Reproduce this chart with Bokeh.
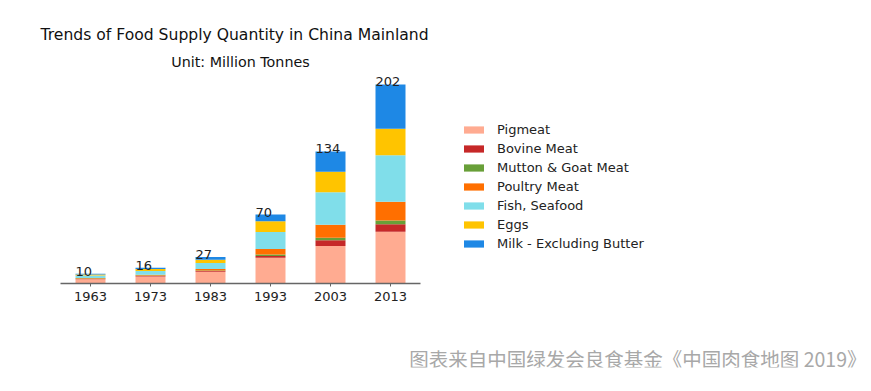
from bokeh.plotting import figure
from bokeh.models import (ColumnDataSource, Range1d, Label, Legend, LegendItem,
                          FixedTicker, BasicTickFormatter)
from bokeh.core.properties import value
from bokeh.embed import file_html
from bokeh.resources import INLINE

years = [1963, 1973, 1983, 1993, 2003, 2013]
categories = ["Pigmeat", "Bovine Meat", "Mutton & Goat Meat", "Poultry Meat",
              "Fish, Seafood", "Eggs", "Milk - Excluding Butter"]
pigmeat = [4.3, 7.2, 12.0, 26.0, 38.0, 52.5]
bovine = [0.3, 0.4, 0.6, 2.0, 6.0, 7.5]
mutton = [0.4, 0.6, 0.7, 1.4, 2.5, 4.0]
poultry = [0.5, 0.8, 1.5, 5.7, 13.0, 19.0]
fish = [2.5, 3.8, 6.0, 17.2, 33.0, 47.0]
eggs = [1.1, 1.8, 3.2, 10.8, 21.0, 27.0]
milk = [0.9, 1.4, 3.0, 6.9, 20.5, 45.0]
total_labels = ["10", "16", "27", "70", "134", "202"]
colors = ["#FFAB91", "#C62828", "#689F38", "#FF6F00", "#80DEEA", "#FFC400", "#1E88E5"]

keys = ["pig", "bov", "mut", "pou", "fish", "eggs", "milk"]
series = [pigmeat, bovine, mutton, poultry, fish, eggs, milk]
data = {"years": years}
for k, s in zip(keys, series):
    data[k] = s
data["total"] = [sum(v) for v in zip(*series)]
data["label"] = total_labels
source = ColumnDataSource(data)

W, H = 866, 391
BOTTOM_PANEL = 24
FB = H - BOTTOM_PANEL       # pixel row of the frame bottom
BASE = 283                  # pixel row of the zero line
SCALE = 0.9856              # pixels per million tonnes
PX_PER_YEAR = 6.0
X0 = 1948                   # year at the left edge of the canvas

p = figure(width=W, height=H,
           x_range=Range1d(X0, X0 + W / PX_PER_YEAR),
           y_range=Range1d(-(FB - BASE) / SCALE, BASE / SCALE),
           output_backend="svg", toolbar_location=None,
           min_border_left=0, min_border_right=0, min_border_top=0,
           min_border_bottom=BOTTOM_PANEL)
p.outline_line_color = None
p.background_fill_color = None
p.border_fill_color = "white"
p.xgrid.visible = False
p.ygrid.visible = False
p.yaxis.visible = False

renderers = p.vbar_stack(keys, x="years", width=5, color=colors, source=source, line_color=None)

p.text(x="years", y="total", text="label", source=source, x_offset=-15, y_offset=2,
       text_font=value("DejaVu Sans"), text_font_size="13px", text_color="#222222",
       text_align="left", text_baseline="bottom")

ax = p.xaxis[0]
ax.fixed_location = 0
ax.ticker = FixedTicker(ticks=years)
ax.formatter = BasicTickFormatter(use_scientific=False)
ax.bounds = (1958, 2018)
ax.axis_line_color = "#666666"
ax.axis_line_width = 1.5
ax.major_tick_line_color = "#666666"
ax.major_tick_in = 0
ax.major_tick_out = 3
ax.minor_tick_line_color = None
ax.major_label_text_font = "DejaVu Sans"
ax.major_label_text_font_size = "13px"
ax.major_label_text_color = "#222222"
ax.major_label_standoff = 5

items = [LegendItem(label=c, renderers=[r]) for c, r in zip(categories, renderers)]
legend = Legend(items=items, location=(461, FB - 251), orientation="vertical",
                glyph_width=25, glyph_height=9, label_height=13, spacing=4,
                label_standoff=11, padding=0, margin=0,
                label_text_font="DejaVu Sans", label_text_font_size="13px",
                label_text_color="#222222", border_line_color=None,
                background_fill_color=None, background_fill_alpha=0)
p.add_layout(legend, "center")

p.add_layout(Label(x=40, y=FB - 34, x_units="screen", y_units="screen",
                   text="Trends of Food Supply Quantity in China Mainland",
                   text_font="DejaVu Sans", text_font_size="15.6px", text_color="#111111",
                   text_align="left", text_baseline="middle"))
p.add_layout(Label(x=240, y=FB - 61, x_units="screen", y_units="screen",
                   text="Unit: Million Tonnes",
                   text_font="DejaVu Sans", text_font_size="14.3px", text_color="#111111",
                   text_align="center", text_baseline="middle"))
p.add_layout(Label(x=866, y=FB - 358, x_units="screen", y_units="screen",
                   text="图表来自中国绿发会良食基金《中国肉食地图 2019》",
                   text_font="Noto Sans CJK SC", text_font_size="19.5px", text_color="#a8a8a8",
                   text_align="right", text_baseline="middle"))

open("out.html", "w").write(file_html(p, INLINE))
